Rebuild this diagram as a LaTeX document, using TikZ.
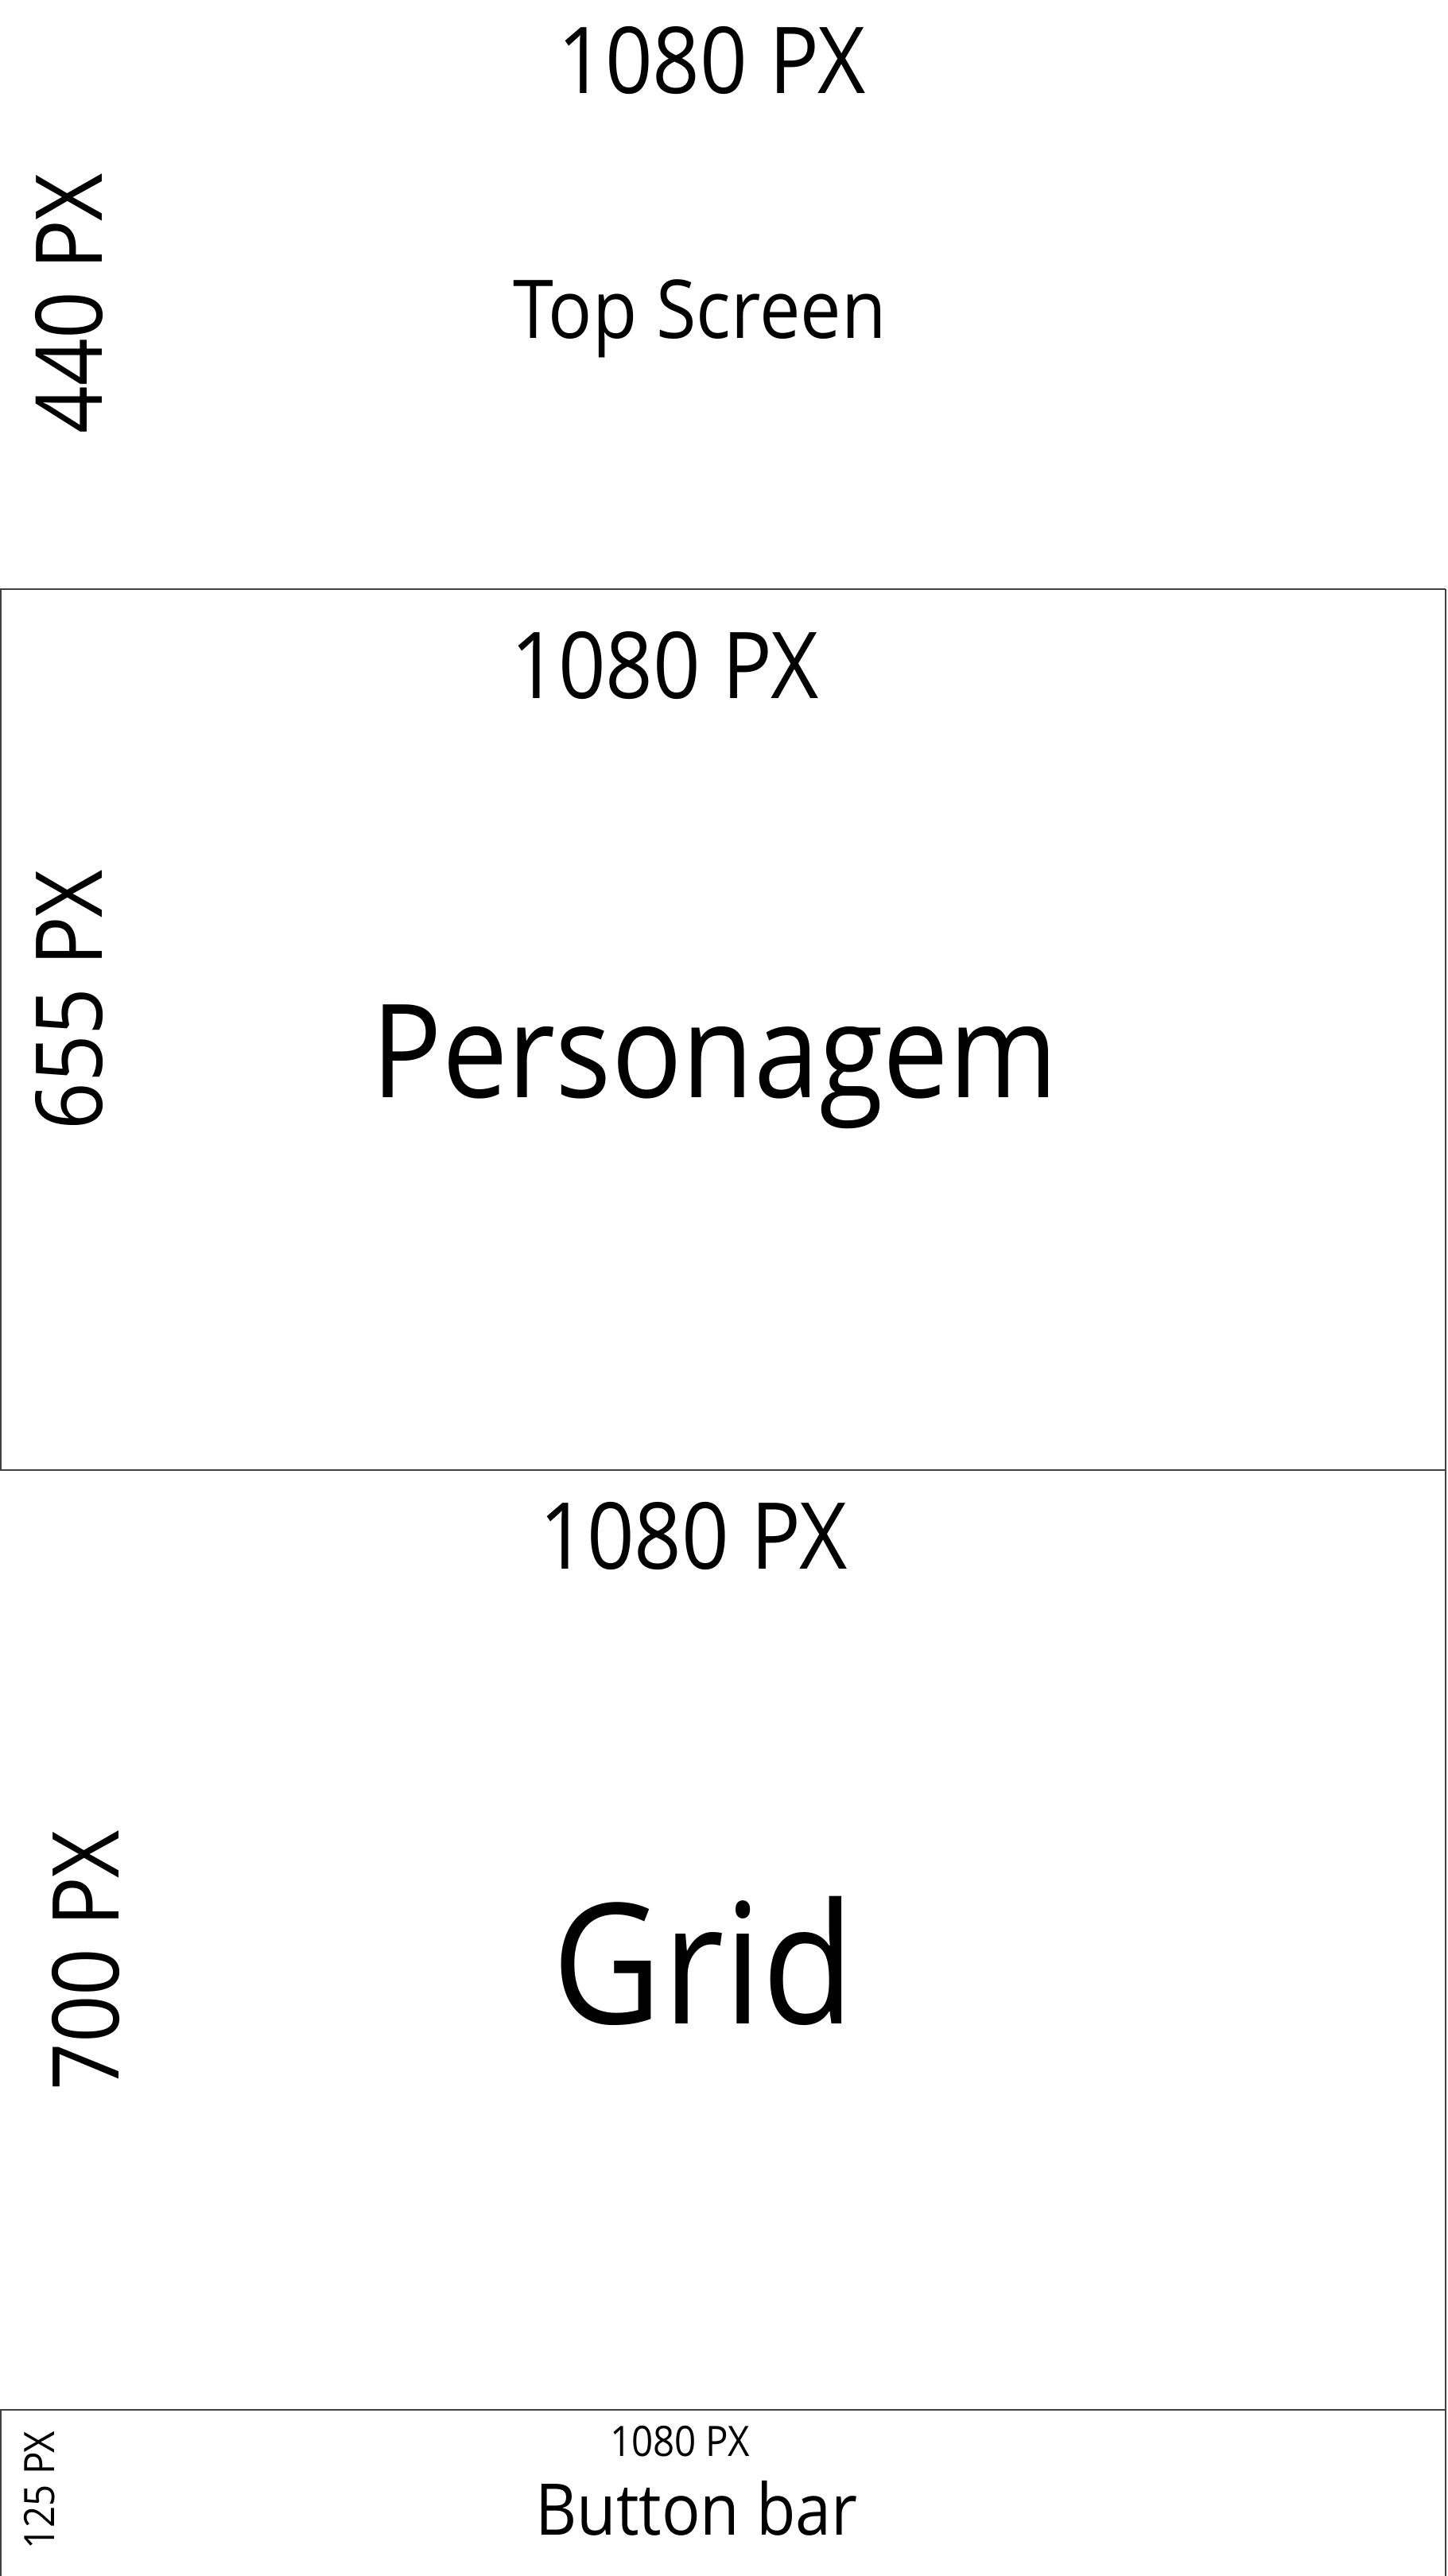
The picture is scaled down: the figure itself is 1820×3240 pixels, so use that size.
\documentclass[tikz,border=0pt]{standalone}
\usepackage{fontspec}
\setmainfont[FakeStretch=0.9]{Open Sans}
\begin{document}
\begin{tikzpicture}[
        x=0.01cm, y=-0.01cm,
        frame/.style={draw=black!75, line width=0.7pt},
        dimlabel/.style={inner sep=0pt, anchor=base, font=\fontsize{33}{39}\selectfont},
        sidelabel/.style={inner sep=0pt, rotate=90, font=\fontsize{33}{39}\selectfont},
        title/.style={inner sep=0pt, anchor=base}
    ]
        \useasboundingbox (0,0) rectangle (1820,3240);
        % section borders
        \draw[frame] (0,741) -- (1818,741);
        \draw[frame] (1,741) -- (1,1849);
        \draw[frame] (1818,741) -- (1818,3240);
        \draw[frame] (0,1849) -- (1818,1849);
        \draw[frame] (0,3031) -- (1818,3031);
        \draw[frame] (1,3031) -- (1,3240);

        % top screen
        \node[dimlabel] (topw) at (895,118) {1080 PX};
        \node[title, font=\fontsize{29}{34}\selectfont] (top) at (880,426) {Top Screen};
        \node[sidelabel] (toph) at (87,382) {440 PX};

        % personagem
        \node[dimlabel] (persw) at (836,878) {1080 PX};
        \node[title, font=\fontsize{46.5}{54}\selectfont] (pers) at (899,1380) {Personagem};
        \node[sidelabel] (persh) at (87,1258) {655 PX};

        % grid
        \node[dimlabel] (gridw) at (872,1973) {1080 PX};
        \node[title, font=\fontsize{60}{70}\selectfont] (grid) at (885,2545) {Grid};
        \node[sidelabel] (gridh) at (108,2466) {700 PX};

        % button bar
        \node[dimlabel, font=\fontsize{15}{18}\selectfont] (barw) at (855,3089) {1080 PX};
        \node[title, font=\fontsize{25.5}{30}\selectfont] (bar) at (876,3188) {Button bar};
        \node[sidelabel, font=\fontsize{15}{18}\selectfont] (barh) at (50,3132) {125 PX};
    \end{tikzpicture}
\end{document}
